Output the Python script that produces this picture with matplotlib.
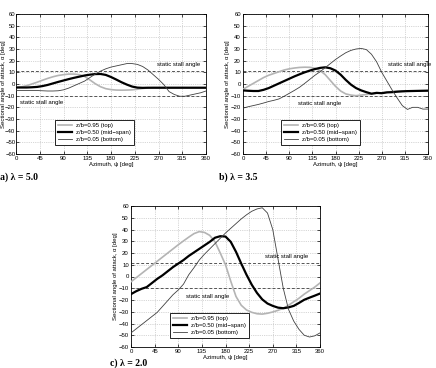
import matplotlib
matplotlib.use("Agg")
import matplotlib.pyplot as plt

plt.rcParams['font.family'] = ['Liberation Sans', 'DejaVu Sans']

azimuth = list(range(0, 361, 10))

# a) lambda = 5.0
a_top = [-3, -2.5, -1.5, 0, 1.5, 3.2, 4.8, 6.2, 7.3, 8, 8.5, 8.5, 8, 6.5, 3.5, 0.3, -2.3, -4,
         -4.8, -5.2, -5.3, -5.2, -5, -4.5, -3.8, -3.4, -3.2, -3.2, -3.2, -3.2, -3.2, -3.2,
         -3.2, -3.2, -3.2, -3.2, -3.2]
a_mid = [-3, -3, -3, -2.8, -2.5, -1.8, -0.8, 0.5, 1.8, 3, 4.2, 5.3, 6.3, 7.3, 8, 8.5, 8.6, 7.8,
         6, 3.8, 1.5, -0.5, -2.2, -3.1, -3.3, -3.2, -3.2, -3.2, -3.2, -3.2, -3.2, -3.2,
         -3.2, -3.2, -3.2, -3.2, -3.2]
a_bot = [-5.5, -5.5, -5.5, -5.5, -5.6, -5.8, -6, -6, -5.8, -5, -3.5, -1.5, 0.5, 2.5, 5.5, 8.5,
         11, 13, 14.5, 15.5, 16.5, 17.5, 17.5, 16.8, 15, 12, 8, 4, -0.5, -6.5, -9, -10.5,
         -10.5, -9.5, -8.5, -7.5, -6]

# b) lambda = 3.5
b_top = [-4.5, -2, 0.5, 3, 5.5, 7.5, 9, 10.5, 12, 13, 13.7, 14.2, 14.4, 14.3, 13.5, 11.5, 8, 3,
         -2, -6, -8.5, -9.5, -10, -9.5, -9, -8.5, -8, -7.5, -7, -6.5, -6.2, -6, -6, -6, -6,
         -6, -6]
b_mid = [-5.5, -5.8, -6, -6, -5, -3.5, -1.5, 0.5, 2.5, 4.5, 6.5, 8.3, 10, 11.5, 12.8, 13.8,
         14.3, 13.5, 11.5, 8, 3.5, -0.5, -3.5, -5.5, -7, -8.3, -7.6, -7.9, -7.2, -7, -6.6,
         -6.3, -6.1, -6, -5.9, -5.8, -5.7]
b_bot = [-20.7, -19.5, -18.5, -17.5, -16.3, -15, -14, -12.8, -10.5, -8, -5.5, -2.8, 0.5, 4, 7.5,
         10.5, 14, 17.5, 21, 24, 26.8, 28.8, 30, 30.5, 29.5, 25.5, 19, 10, 2.5, -5, -12,
         -18.5, -21.8, -20, -20, -21.5, -21.5]

# c) lambda = 2.0
c_top = [-4.5, -1, 2.5, 6, 9.5, 13, 16.5, 20, 23.5, 27, 30.3, 33.5, 36.5, 38.2, 37.5, 35, 29.5,
         20, 10, -4, -17, -24.5, -28.5, -30.5, -31.7, -32, -31.3, -30.2, -28.8, -27, -24.5,
         -21.5, -18.5, -15, -12, -9, -5.5]
c_mid = [-15, -12.5, -10.5, -9, -5.5, -2, 1, 4.5, 8, 11, 14, 17.5, 20.5, 23.5, 26.5, 29.5, 33,
         34.3, 34, 29.5, 21, 11, 1.5, -7, -14, -19.5, -23, -25, -26.5, -27, -26.3, -25,
         -22.5, -19.8, -18, -16.3, -14.5]
c_bot = [-48, -44.5, -41, -37.5, -34, -30.5, -25.5, -20.5, -15.5, -11.5, -6.5, 1.5, 7.5, 14, 19,
         23.5, 28, 32.5, 37, 41, 45, 49, 52.5, 55.5, 57.5, 58.5, 54, 40, 15, -10, -28, -38,
         -45, -50, -51.5, -50.5, -48]

stall_upper = 11.3
stall_lower = -10
series_labels = ['z/b=0.95 (top)', 'z/b=0.50 (mid\u2212span)', 'z/b=0.05 (bottom)']
xticks = [0, 45, 90, 135, 180, 225, 270, 315, 360]
yticks = list(range(-60, 61, 10))
panel_titles = ['a) \u03bb = 5.0', 'b) \u03bb = 3.5', 'c) \u03bb = 2.0']

W, H = 436, 368
FS = 4.3
fig = plt.figure(figsize=(W / 100, H / 100), dpi=100)

def px_axes(x0, x1, y0, y1):
    return fig.add_axes([x0 / W, 1 - y1 / H, (x1 - x0) / W, (y1 - y0) / H])

panels = [
    (px_axes(16, 206, 14, 154), a_top, a_mid, a_bot, (268, 14.5), (8, -13.5), (0, 177)),
    (px_axes(243, 428, 14, 154), b_top, b_mid, b_bot, (282, 14.5), (107, -14.5), (219, 177)),
    (px_axes(131, 320, 206, 347), c_top, c_mid, c_bot, (255, 15), (105, -15), (110, 363)),
]

for i, (ax, top, mid, bot, up_txt, lo_txt, title_px) in enumerate(panels):
    ax.plot(azimuth, top, color='#b4b4b4', lw=1.2, label=series_labels[0], zorder=3)
    ax.plot(azimuth, mid, color='black', lw=1.6, label=series_labels[1], zorder=4)
    ax.plot(azimuth, bot, color='#404040', lw=0.6, label=series_labels[2], zorder=5)
    ax.axhline(stall_upper, color='#555555', ls=(0, (3, 2)), lw=0.7, zorder=2)
    ax.axhline(stall_lower, color='#555555', ls=(0, (3, 2)), lw=0.7, zorder=2)
    ax.text(up_txt[0], up_txt[1], 'static stall angle', fontsize=FS, va='bottom', ha='left', zorder=6)
    ax.text(lo_txt[0], lo_txt[1], 'static stall angle', fontsize=FS, va='top', ha='left', zorder=6)
    ax.set_xlim(0, 360)
    ax.set_ylim(-60, 60)
    ax.set_xticks(xticks)
    ax.set_yticks(yticks)
    ax.tick_params(direction='in', labelsize=FS, length=2, width=0.5, pad=1.5,
                   top=True, right=True)
    ax.grid(True, ls=':', color='#b0b0b0', lw=0.5)
    for s in ax.spines.values():
        s.set_linewidth(0.6)
    ax.set_xlabel('Azimuth, \u03c8 [deg]', fontsize=FS, labelpad=0.5)
    ax.set_ylabel('Sectional angle of attack, \u03b1 [deg]', fontsize=FS, labelpad=0.5)
    if i == 0:
        ax.tick_params(axis='y', pad=0.5)
        ax.yaxis.set_label_coords(-9.6 / 190, 0.5)
    leg = ax.legend(loc='lower left', bbox_to_anchor=(0.19, 0.04), fontsize=FS,
                    frameon=True, fancybox=False, edgecolor='black', framealpha=1,
                    handlelength=2.4, borderpad=0.5, labelspacing=0.35, handletextpad=0.6)
    leg.get_frame().set_linewidth(0.6)
    fig.text(title_px[0] / W, 1 - title_px[1] / H, panel_titles[i], fontsize=7,
             fontweight='bold', family=['Liberation Serif', 'DejaVu Serif'],
             ha='left', va='center')

fig.savefig('out.png', dpi=100)
